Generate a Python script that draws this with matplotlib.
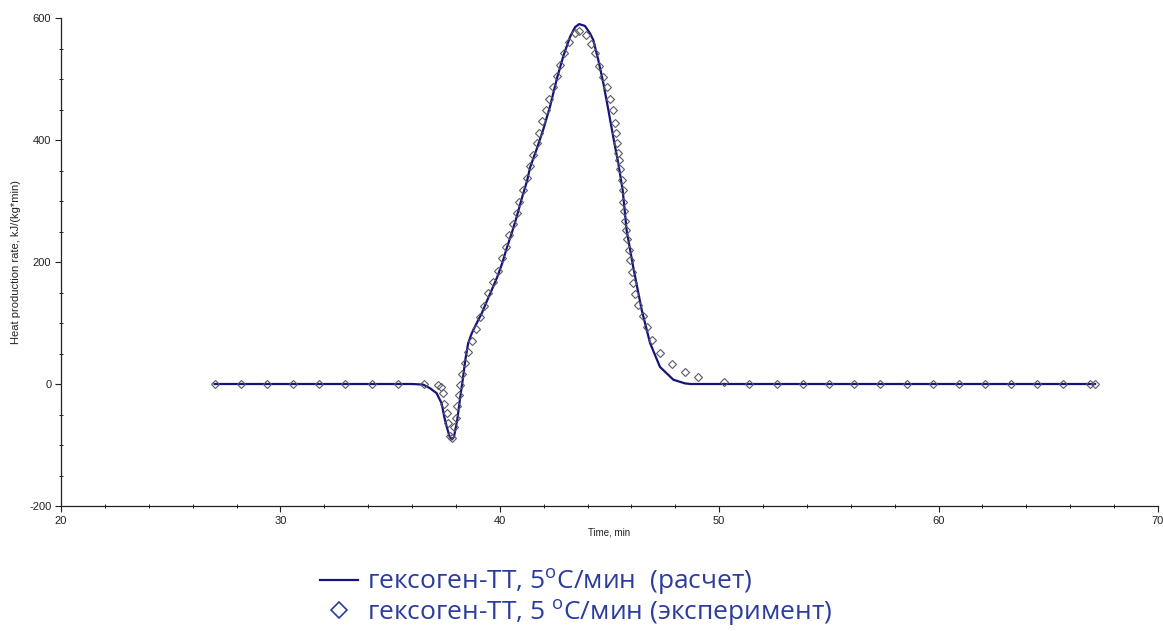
import matplotlib
matplotlib.use("Agg")
import matplotlib.pyplot as plt
from matplotlib.lines import Line2D
from matplotlib.ticker import MultipleLocator

# ---- data ----
calc_time = [27.0, 36.0, 36.51, 36.82, 37.12, 37.35, 37.47, 37.58, 37.70, 37.81,
             37.91, 38.06, 38.18, 38.31, 38.43, 38.56, 38.72, 38.95, 39.18, 39.40,
             39.63, 39.89, 40.11, 40.31, 40.54, 40.77, 41.00, 41.25, 41.38, 41.68,
             41.98, 42.29, 42.59, 42.89, 43.20, 43.43, 43.62, 43.88, 44.11, 44.26,
             44.49, 44.72, 44.95, 45.17, 45.40, 45.60, 45.78, 46.08, 46.47, 46.85,
             47.30, 47.91, 48.44, 48.70, 67.13]
calc_rate = [0, 0, -1, -7, -15, -32, -54, -70, -85, -91,
             -87, -59, -26, 7, 40, 67, 83, 100, 116, 135,
             154, 176, 198, 222, 247, 274, 304, 334, 355, 385,
             417, 455, 499, 537, 569, 585, 590, 587, 575, 564,
             531, 493, 449, 405, 362, 318, 252, 192, 121, 67,
             28, 7, 1, 0, 0]

exp_time = [27.02, 28.20, 29.39, 30.57, 31.76, 32.94, 34.17, 35.36, 36.55, 37.17,
            37.31, 37.40, 37.46, 37.58, 37.63, 37.73, 37.81, 37.91, 38.00, 38.06,
            38.14, 38.18, 38.27, 38.41, 38.56, 38.75, 38.92, 39.10, 39.28, 39.48,
            39.70, 39.90, 40.10, 40.28, 40.43, 40.62, 40.80, 40.89, 41.04, 41.23,
            41.38, 41.53, 41.68, 41.80, 41.92, 42.11, 42.24, 42.41, 42.59, 42.74,
            42.93, 43.17, 43.43, 43.62, 43.93, 44.14, 44.34, 44.54, 44.72, 44.87,
            45.02, 45.15, 45.25, 45.30, 45.36, 45.40, 45.45, 45.48, 45.56, 45.60,
            45.63, 45.66, 45.71, 45.75, 45.81, 45.88, 45.93, 46.03, 46.09, 46.18,
            46.31, 46.51, 46.72, 46.95, 47.30, 47.83, 48.44, 49.05, 50.22, 51.36,
            52.63, 53.82, 55.00, 56.14, 57.33, 58.56, 59.74, 60.93, 62.11, 63.30,
            64.49, 65.67, 66.90, 67.13]
exp_rate = [0, 0, 0, 0, 0, 0, 0, 0, 0, -1,
            -5, -15, -32, -48, -64, -85, -89, -70, -55, -36,
            -18, -2, 16, 34, 53, 71, 90, 110, 128, 149,
            168, 186, 207, 225, 244, 263, 281, 299, 318, 337,
            357, 375, 395, 412, 431, 449, 468, 487, 505, 523,
            542, 561, 575, 579, 572, 558, 542, 521, 504, 487,
            467, 449, 428, 412, 395, 379, 367, 352, 334, 318,
            299, 284, 268, 252, 238, 220, 203, 184, 166, 148,
            130, 112, 93, 72, 51, 32, 19, 12, 3, 0,
            0, 0, 0, 0, 0, 0, 0, 0, 0, 0,
            0, 0, 0, 0]

label_calc = "гексоген-ТТ, 5$^{\\mathrm{o}}$C/мин  (расчет)"
label_exp = "гексоген-ТТ, 5 $^{\\mathrm{o}}$C/мин (эксперимент)"
xlabel = "Time, min"
ylabel = "Heat production rate, kJ/(kg*min)"

plt.rcParams['font.family'] = ['Liberation Sans', 'DejaVu Sans']
plt.rcParams['mathtext.fontset'] = 'custom'
plt.rcParams['mathtext.rm'] = 'Open Sans'
plt.rcParams['mathtext.it'] = 'Open Sans'
plt.rcParams['axes.unicode_minus'] = False

W, H = 1163, 631
fig = plt.figure(figsize=(W / 100, H / 100), dpi=100)
ax = fig.add_axes([61 / W, 1 - 506 / H, (1158 - 61) / W, (506 - 18) / H])

line_color = '#14147c'
ax.plot(calc_time, calc_rate, color=line_color, lw=1.6, zorder=2)
ax.plot(exp_time, exp_rate, linestyle='none', marker='D', markersize=4.2,
        markerfacecolor='none', markeredgecolor='#5a5a66', markeredgewidth=0.8, zorder=3)

ax.set_xlim(20, 70)
ax.set_ylim(-200, 600)
ax.xaxis.set_major_locator(MultipleLocator(10))
ax.xaxis.set_minor_locator(MultipleLocator(2))
ax.yaxis.set_major_locator(MultipleLocator(200))
ax.yaxis.set_minor_locator(MultipleLocator(50))
for s in ['top', 'right']:
    ax.spines[s].set_visible(False)
for s in ['left', 'bottom']:
    ax.spines[s].set_linewidth(0.9)
    ax.spines[s].set_color('#222222')
ax.tick_params(which='major', direction='out', length=4, width=0.8, labelsize=8,
               colors='#222222', pad=3)
ax.tick_params(which='minor', direction='inout', length=3, width=0.7, colors='#222222')
ax.set_xlabel(xlabel, fontsize=7, color='#222222', labelpad=1)
ax.set_ylabel(ylabel, fontsize=8, color='#222222', labelpad=6)

leg_handles = [
    Line2D([], [], color=line_color, lw=1.6),
    Line2D([], [], linestyle='none', marker='D', markersize=8, markerfacecolor='none',
           markeredgecolor='#2b3c9c', markeredgewidth=1.2),
]
leg = fig.legend(leg_handles, [label_calc, label_exp], loc='upper left',
                 bbox_to_anchor=(320 / W, 1 - 567 / H), frameon=False,
                 prop={'family': ['Open Sans', 'DejaVu Sans'], 'size': 19},
                 handlelength=1.44, handletextpad=0.34, labelspacing=0.02,
                 borderpad=0, borderaxespad=0)
for t in leg.get_texts():
    t.set_color('#2b3c9c')

fig.savefig('out.png', dpi=100)
